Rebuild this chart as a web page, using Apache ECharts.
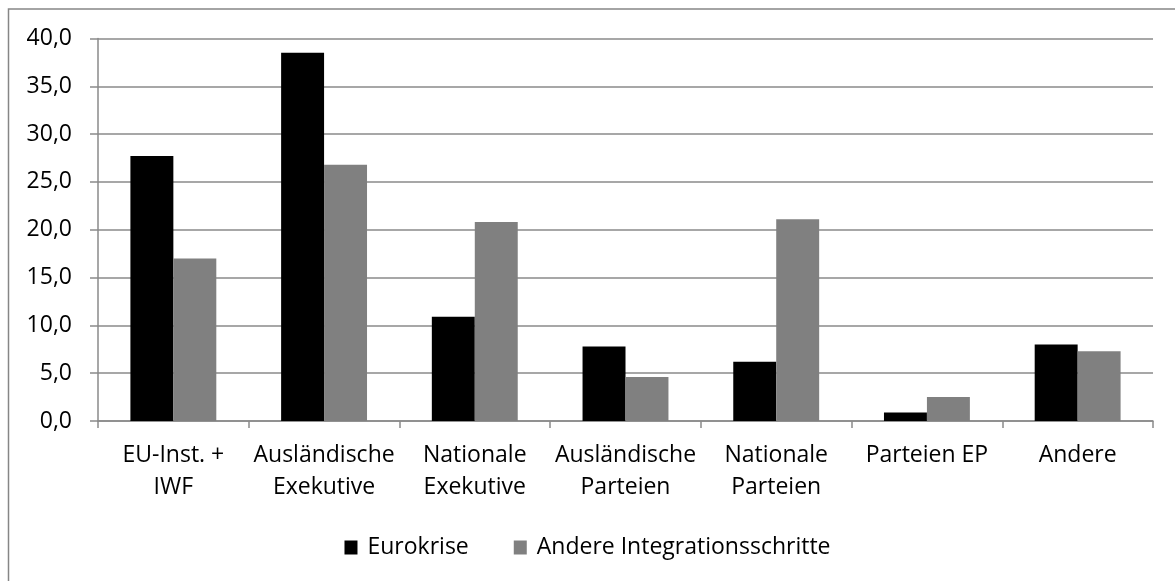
<!DOCTYPE html>
<html>
<head>
<meta charset="utf-8">
<script src="https://cdn.jsdelivr.net/npm/echarts@6/dist/echarts.min.js"></script>
<style>
  html, body { margin: 0; padding: 0; background: #fff; }
  #chart { width: 1175px; height: 581px; }
</style>
</head>
<body>
<div id="chart"></div>
<script>
// Akteure, aufgeteilt nach Eurokrise und anderen Integrationsschritten (in %)
const categories = [
  'EU-Inst. +\nIWF',
  'Ausländische\nExekutive',
  'Nationale\nExekutive',
  'Ausländische\nParteien',
  'Nationale\nParteien',
  'Parteien EP',
  'Andere'
];
const seriesNames = ['Eurokrise', 'Andere Integrationsschritte'];
const eurokrise = [27.7, 38.5, 10.9, 7.8, 6.2, 0.9, 8.0];
const andereSchritte = [17.0, 26.8, 20.8, 4.6, 21.1, 2.5, 7.3];
const yTicks = { min: 0, max: 40, interval: 5 };

const FONT = '"Open Sans", "Liberation Sans", sans-serif';
const FONT_SIZE = 23;
const GRID_COLOR = '#8a8a8a';

const chart = echarts.init(document.getElementById('chart'), null, { renderer: 'canvas' });

chart.setOption({
  animation: false,
  backgroundColor: '#ffffff',
  textStyle: { fontFamily: FONT },
  graphic: [{
    type: 'rect',
    shape: { x: 8.5, y: 9, width: 1200, height: 620 },
    style: { fill: 'none', stroke: '#868686', lineWidth: 1.5 },
    silent: true,
    z: -1
  }],
  grid: { left: 98, right: 22, top: 38.5, bottom: 160, containLabel: false },
  legend: {
    data: seriesNames,
    top: 531,
    left: 'center',
    itemWidth: 13,
    itemHeight: 14,
    itemGap: 45,
    icon: 'rect',
    textStyle: { fontFamily: FONT, fontSize: FONT_SIZE, color: '#000', padding: [0, 0, 0, 5] }
  },
  xAxis: {
    type: 'category',
    data: categories,
    axisLine: { lineStyle: { color: GRID_COLOR, width: 1.5 } },
    axisTick: { show: true, length: 7, lineStyle: { color: GRID_COLOR, width: 1.5 } },
    axisLabel: {
      interval: 0,
      margin: 18,
      fontSize: FONT_SIZE,
      lineHeight: 32,
      color: '#000',
      fontFamily: FONT
    }
  },
  yAxis: {
    type: 'value',
    min: yTicks.min,
    max: yTicks.max,
    interval: yTicks.interval,
    axisLine: { show: true, lineStyle: { color: GRID_COLOR, width: 1.5 } },
    axisTick: { show: true, length: 8, lineStyle: { color: GRID_COLOR, width: 1.5 } },
    splitLine: { show: true, lineStyle: { color: GRID_COLOR, width: 1.5 } },
    axisLabel: {
      margin: 26,
      fontSize: FONT_SIZE,
      color: '#000',
      fontFamily: FONT,
      formatter: v => v.toFixed(1).replace('.', ',')
    }
  },
  series: [
    {
      name: seriesNames[0],
      type: 'bar',
      data: eurokrise,
      barGap: '0%',
      barCategoryGap: '43%',
      itemStyle: { color: '#000000' }
    },
    {
      name: seriesNames[1],
      type: 'bar',
      data: andereSchritte,
      barGap: '0%',
      barCategoryGap: '43%',
      itemStyle: { color: '#808080' }
    }
  ]
});
</script>
</body>
</html>
